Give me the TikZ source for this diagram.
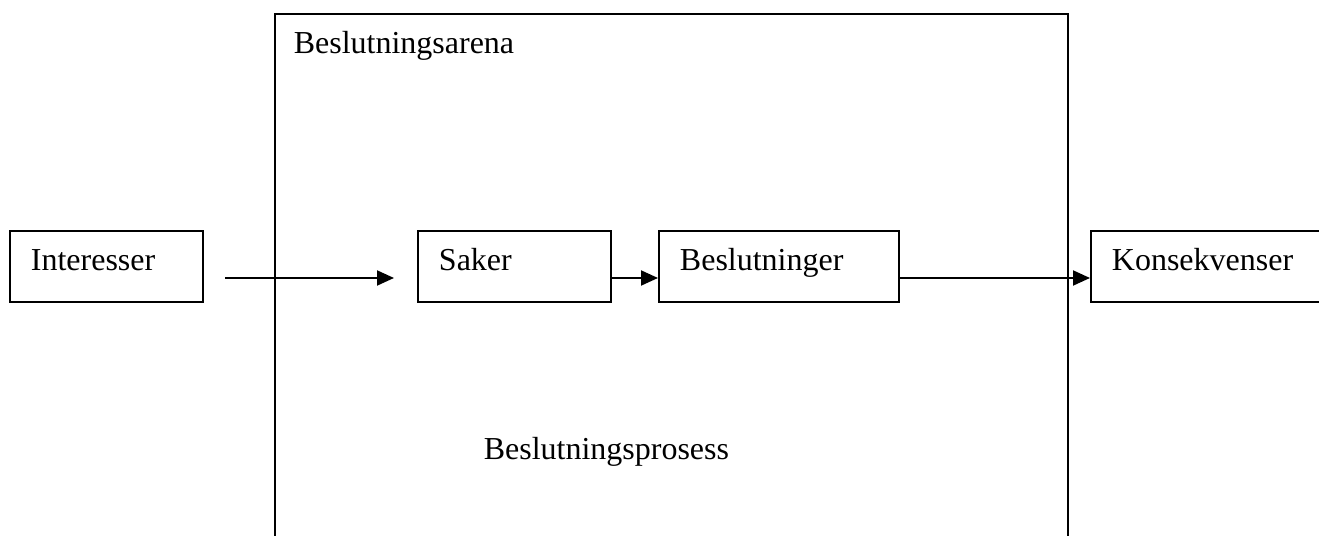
\documentclass[tikz,border=0pt]{standalone}
\usepackage{fontspec}
\setmainfont{Liberation Serif}
\usepackage{tikz}
\usetikzlibrary{arrows.meta}
\usetikzlibrary{positioning}

\tikzset{
  boks/.style={draw, line width=1.1pt, rectangle, anchor=north west,
    minimum height=1.42cm, inner xsep=0.42cm, inner ysep=0pt,
    text height=0.75em, text depth=0.25em, align=left},
  pil/.style={line width=1.1pt, -{Triangle[length=0.34cm,width=0.3cm]}},
  tekst/.style={anchor=base west, inner sep=0pt}
}

\begin{document}
\begin{tikzpicture}[font=\fontsize{18.2}{22}\selectfont]
    \clip (0, 0) rectangle (26.38, -10.72);
    \node[draw, line width=1.1pt, anchor=north west, minimum width=15.86cm, minimum height=11.4cm] (arena) at (5.48, -0.26) {};
    \node[tekst] (arenanavn) at (5.87, -1.07) {Beslutningsarena};
    \node[tekst] (prosess) at (9.67, -9.2) {Beslutningsprosess};
    \node[boks, text width=3.02cm] (interesser) at (0.18, -4.6) {Interesser};
    \node[boks, text width=3.02cm] (saker) at (8.34, -4.6) {Saker};
    \node[boks, text width=3.96cm] (beslutninger) at (13.16, -4.6) {Beslutninger};
    \node[boks, text width=4.6cm] (konsekvenser) at (21.8, -4.6) {Konsekvenser};
    \coordinate (flyt) at (0, -5.56);
    \coordinate (inn) at (4.5, -5.56);
    \coordinate (inntil) at (7.88, -5.56);
    \draw[pil] (inn) -- (inntil);
    \draw[pil] (saker.east |- flyt) -- (beslutninger.west |- flyt);
    \draw[pil] (beslutninger.east |- flyt) -- (konsekvenser.west |- flyt);
\end{tikzpicture}
\end{document}
